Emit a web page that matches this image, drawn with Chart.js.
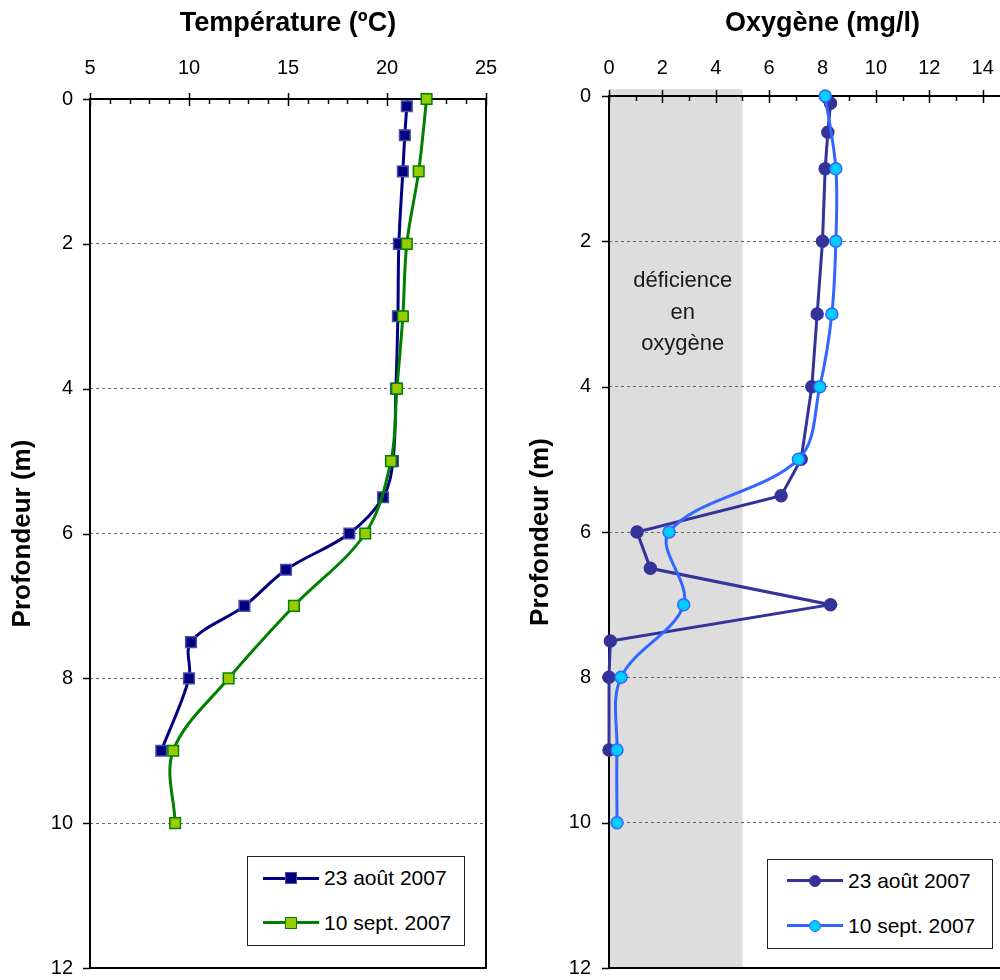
<!DOCTYPE html>
<html>
<head>
<meta charset="utf-8">
<script src="https://cdn.jsdelivr.net/npm/chart.js@4"></script>
<style>
html,body{margin:0;padding:0;overflow:hidden;background:#fff;}
body{width:1000px;height:980px;position:relative;font-family:'Liberation Sans',Arial,sans-serif;}
.wrap{position:absolute;top:0;}
.leg{position:absolute;border:1.5px solid #222;background:#fff;box-sizing:border-box;}
.row{position:absolute;height:30px;display:flex;align-items:center;white-space:nowrap;font-size:21px;color:#000;}
.sample{position:relative;width:56px;height:30px;margin-right:5px;flex:none;}
.sample .ln{position:absolute;left:0;right:0;top:13.5px;height:3px;}
.sample .mk{position:absolute;box-sizing:border-box;}
</style>
</head>
<body>
<div class="wrap" style="left:0;width:500px;height:980px"><canvas id="tempChart" width="500" height="980"></canvas></div>
<div class="wrap" style="left:500px;width:580px;height:980px"><canvas id="oxyChart" width="580" height="980"></canvas></div>
<div id="legends"></div>
<script>
// ---------- data ----------
const seriesLabels = ['23 août 2007', '10 sept. 2007'];

const tempDepthAug = [0.1, 0.5, 1, 2, 3, 4, 5, 5.5, 6, 6.5, 7, 7.5, 8, 9];
const tempAug      = [21.0, 20.9, 20.8, 20.6, 20.55, 20.45, 20.3, 19.8, 18.1, 14.9, 12.8, 10.1, 10.0, 8.6];
const tempDepthSep = [0, 1, 2, 3, 4, 5, 6, 7, 8, 9, 10];
const tempSep      = [22.0, 21.6, 21.0, 20.8, 20.5, 20.2, 18.9, 15.3, 12.0, 9.2, 9.3];

const oxyDepthAug = [0.1, 0.5, 1, 2, 3, 4, 5, 5.5, 6, 6.5, 7, 7.5, 8, 9];
const oxyAug      = [8.3, 8.2, 8.1, 8.0, 7.8, 7.6, 7.2, 6.45, 1.05, 1.55, 8.3, 0.05, 0.0, 0.0];
const oxyDepthSep = [0, 1, 2, 3, 4, 5, 6, 7, 8, 9, 10];
const oxySep      = [8.1, 8.5, 8.5, 8.35, 7.9, 7.1, 2.25, 2.8, 0.45, 0.3, 0.3];

const tempTickLabels  = [5, 10, 15, 20, 25];
const oxyTickLabels   = [0, 2, 4, 6, 8, 10, 12, 14, 16];
const depthTickLabels = [0, 2, 4, 6, 8, 10, 12];

const deficiencyRange = [0, 5];
const deficiencyText  = ['déficience', 'en', 'oxygène'];

// ---------- helpers ----------
const FONT = "'Liberation Sans', Arial, sans-serif";
const pts = (xs, ys) => xs.map((v, i) => ({x: v, y: ys[i]}));

const framePlugin = {
  id: 'frame',
  beforeDatasetsDraw(chart, args, opts) {
    const {ctx, chartArea: a, scales: {x, y}} = chart;
    ctx.save();
    ctx.strokeStyle = '#000';
    ctx.lineWidth = 2;
    ctx.beginPath();
    ctx.moveTo(a.left, a.bottom); ctx.lineTo(a.left, a.top); ctx.lineTo(a.right, a.top);
    ctx.lineTo(a.right, a.bottom); ctx.lineTo(a.left, a.bottom);
    ctx.stroke();
    ctx.lineWidth = 1.5;
    for (let v = x.min; v <= x.max + 1e-9; v += 1) {
      const px = Math.round(x.getPixelForValue(v)) + 0.5;
      const major = opts.xMajor.includes(v);
      ctx.beginPath();
      ctx.moveTo(px, major ? a.top - 6 : a.top);
      ctx.lineTo(px, a.top + (major ? 7 : 5));
      ctx.stroke();
    }
    for (const v of opts.yMajor) {
      const py = Math.round(y.getPixelForValue(v)) + 0.5;
      ctx.beginPath();
      ctx.moveTo(a.left - 7, py); ctx.lineTo(a.left, py);
      ctx.stroke();
    }
    ctx.restore();
  }
};

const bandPlugin = {
  id: 'band',
  beforeDraw(chart, args, opts) {
    if (!opts || !opts.range) return;
    const {ctx, chartArea: a, scales: {x}} = chart;
    const x0 = x.getPixelForValue(opts.range[0]);
    const x1 = x.getPixelForValue(opts.range[1]);
    ctx.save();
    ctx.fillStyle = '#dddddd';
    ctx.fillRect(x0, a.top - 7, x1 - x0, a.bottom - a.top + 7);
    ctx.fillStyle = '#1a1a1a';
    ctx.font = '22px ' + FONT;
    ctx.textAlign = 'center';
    ctx.textBaseline = 'alphabetic';
    const cx = (x0 + x1) / 2 + 7;
    opts.lines.forEach((t, i) => ctx.fillText(t, cx, 287 + i * 31.5));
    ctx.restore();
  }
};

function makeOptions(cfg) {
  return {
    responsive: false,
    animation: false,
    devicePixelRatio: 1,
    layout: {padding: cfg.padding},
    plugins: {
      legend: {display: false},
      tooltip: {enabled: false},
      frame: {xMajor: cfg.xLabels, yMajor: depthTickLabels},
      band: cfg.band || {}
    },
    scales: {
      x: {
        type: 'linear', position: 'top', min: cfg.xMin, max: cfg.xMax,
        grid: {display: false},
        border: {display: false},
        ticks: {
          stepSize: 1, autoSkip: false, maxRotation: 0, padding: cfg.xPad,
          color: '#000', font: {family: FONT, size: 20},
          callback: v => cfg.xLabels.includes(v) ? String(v) : ''
        },
        title: {
          display: true, text: cfg.xTitle, color: '#000',
          font: {family: FONT, size: 27, weight: 'bold'},
          padding: {top: 7, bottom: 0}
        },
        afterFit: s => { s.height = cfg.top; s.paddingLeft = 0; s.paddingRight = 0; }
      },
      y: {
        type: 'linear', reverse: true, min: 0, max: 12,
        grid: {
          drawTicks: false, lineWidth: 1,
          color: c => (c.tick && (c.tick.value === 0 || c.tick.value === 12)) ? 'rgba(0,0,0,0)' : '#666'
        },
        border: {display: false, dash: [3, 3]},
        ticks: {
          stepSize: 2, padding: cfg.yPad, color: '#000', font: {family: FONT, size: 20},
          callback: v => depthTickLabels.includes(v) ? String(v) : ''
        },
        title: {
          display: true, text: 'Profondeur (m)', color: '#000',
          font: {family: FONT, size: 26, weight: 'bold'},
          padding: {top: 7, bottom: 0}
        },
        afterFit: s => { s.width = cfg.left; s.paddingTop = 0; s.paddingBottom = 0; }
      }
    }
  };
}

// ---------- temperature chart ----------
const tempStyles = [
  {line: '#000080', fill: '#000080', border: '#4a4aa8', shape: 'rect'},
  {line: '#008000', fill: '#99cc00', border: '#008000', shape: 'rect'}
];
new Chart(document.getElementById('tempChart'), {
  type: 'scatter',
  data: {
    datasets: [
      {label: seriesLabels[0], data: pts(tempAug, tempDepthAug), showLine: true,
       borderColor: tempStyles[0].line, borderWidth: 3, tension: 0.35, clip: false, order: 2,
       pointStyle: 'rect', pointRadius: 7.5, pointBackgroundColor: tempStyles[0].fill,
       pointBorderColor: tempStyles[0].border, pointBorderWidth: 1.5},
      {label: seriesLabels[1], data: pts(tempSep, tempDepthSep), showLine: true,
       borderColor: tempStyles[1].line, borderWidth: 3, tension: 0.35, clip: false, order: 1,
       pointStyle: 'rect', pointRadius: 7.5, pointBackgroundColor: tempStyles[1].fill,
       pointBorderColor: tempStyles[1].border, pointBorderWidth: 1.5}
    ]
  },
  options: makeOptions({
    padding: {left: 0, top: 0, right: 14, bottom: 12},
    xMin: 5, xMax: 25, xLabels: tempTickLabels, xTitle: 'Température (ºC)',
    xPad: 11, yPad: 17, top: 99, left: 90
  }),
  plugins: [framePlugin]
});

// ---------- oxygen chart ----------
const oxyStyles = [
  {line: '#333399', fill: '#333399', border: '#333399', shape: 'circle'},
  {line: '#3366ff', fill: '#00ccff', border: '#3366ff', shape: 'circle'}
];
new Chart(document.getElementById('oxyChart'), {
  type: 'scatter',
  data: {
    datasets: [
      {label: seriesLabels[0], data: pts(oxyAug, oxyDepthAug), showLine: true,
       borderColor: oxyStyles[0].line, borderWidth: 3, tension: 0, clip: false, order: 2,
       pointStyle: 'circle', pointRadius: 6, pointBackgroundColor: oxyStyles[0].fill,
       pointBorderColor: oxyStyles[0].border, pointBorderWidth: 1.5},
      {label: seriesLabels[1], data: pts(oxySep, oxyDepthSep), showLine: true,
       borderColor: oxyStyles[1].line, borderWidth: 3, tension: 0.35, clip: false, order: 1,
       pointStyle: 'circle', pointRadius: 6, pointBackgroundColor: oxyStyles[1].fill,
       pointBorderColor: oxyStyles[1].border, pointBorderWidth: 1.5}
    ]
  },
  options: makeOptions({
    padding: {left: 18, top: 0, right: 44, bottom: 12},
    xMin: 0, xMax: 16, xLabels: oxyTickLabels, xTitle: 'Oxygène (mg/l)',
    xPad: 8, yPad: 18, top: 96, left: 91,
    band: {range: deficiencyRange, lines: deficiencyText}
  }),
  plugins: [framePlugin, bandPlugin]
});

// ---------- legends (HTML) ----------
function makeLegend(box, rows, styles) {
  const host = document.getElementById('legends');
  const d = document.createElement('div');
  d.className = 'leg';
  Object.assign(d.style, {left: box.l + 'px', top: box.t + 'px', width: box.w + 'px', height: box.h + 'px'});
  host.appendChild(d);
  seriesLabels.forEach((lab, i) => {
    const st = styles[i];
    const r = document.createElement('div');
    r.className = 'row';
    r.style.left = (rows.x - box.l) + 'px';
    r.style.top = (rows.y[i] - box.t - 15) + 'px';
    const s = document.createElement('div');
    s.className = 'sample';
    const ln = document.createElement('div');
    ln.className = 'ln'; ln.style.background = st.line;
    const mk = document.createElement('div');
    mk.className = 'mk';
    const sz = 12;
    Object.assign(mk.style, {
      width: sz + 'px', height: sz + 'px', left: (28 - sz / 2) + 'px', top: (15 - sz / 2) + 'px',
      background: st.fill, border: '1.5px solid ' + st.border,
      borderRadius: st.shape === 'circle' ? '50%' : '0'
    });
    s.appendChild(ln); s.appendChild(mk);
    const t = document.createElement('span');
    t.textContent = lab;
    r.appendChild(s); r.appendChild(t);
    d.appendChild(r);
  });
}
makeLegend({l: 247, t: 856, w: 218, h: 90}, {x: 262, y: [877, 921.5]}, tempStyles);
makeLegend({l: 767, t: 859, w: 226, h: 90}, {x: 786, y: [879.5, 924.5]}, oxyStyles);
</script>
</body>
</html>
